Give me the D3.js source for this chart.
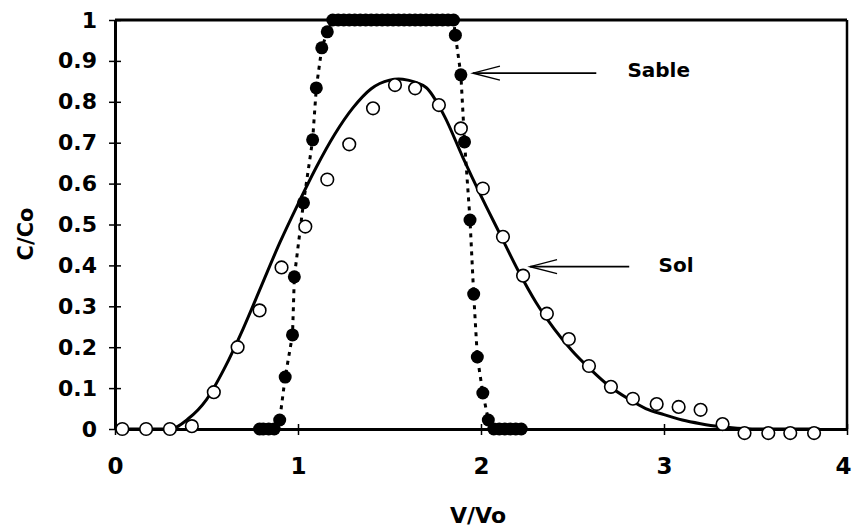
<!DOCTYPE html>
<html>
<head>
<meta charset="utf-8">
<script src="https://cdn.jsdelivr.net/npm/d3@7"></script>
<style>
  html, body { margin: 0; padding: 0; background: #fff; }
  svg { display: block; }
  text { font-family: "DejaVu Sans", "Liberation Sans", sans-serif; font-weight: bold; fill: #000; }
</style>
</head>
<body>
<svg id="chart" width="853" height="528"></svg>
<script>
// ---- Data ----
const xTicks = [0, 1, 2, 3, 4];
const yTicks = [0, 0.1, 0.2, 0.3, 0.4, 0.5, 0.6, 0.7, 0.8, 0.9, 1];
const yTickLabels = ["0", "0.1", "0.2", "0.3", "0.4", "0.5", "0.6", "0.7", "0.8", "0.9", "1"];

// Sol (open circles), measured
const solX = [0.04, 0.17, 0.30, 0.42, 0.54, 0.67, 0.79, 0.91, 1.04, 1.16, 1.28, 1.41, 1.53, 1.64, 1.77, 1.89, 2.01, 2.12, 2.23, 2.36, 2.48, 2.59, 2.71, 2.83, 2.96, 3.08, 3.20, 3.32, 3.44, 3.57, 3.69, 3.82];
const solC = [0, 0, 0, 0.007, 0.09, 0.20, 0.29, 0.395, 0.495, 0.61, 0.696, 0.784, 0.841, 0.833, 0.792, 0.735, 0.588, 0.47, 0.375, 0.282, 0.22, 0.154, 0.103, 0.074, 0.061, 0.054, 0.047, 0.012, -0.01, -0.01, -0.01, -0.01];

// Sol model curve (solid line)
const solFitX = [0, 0.30, 0.40, 0.50, 0.60, 0.70, 0.80, 0.90, 1.00, 1.10, 1.20, 1.30, 1.40, 1.50, 1.55, 1.60, 1.70, 1.80, 1.90, 2.00, 2.10, 2.20, 2.30, 2.40, 2.50, 2.60, 2.70, 2.80, 2.90, 3.00, 3.10, 3.20, 3.30, 3.40, 3.50, 3.85];
const solFitC = [0, 0, 0.025, 0.072, 0.15, 0.245, 0.35, 0.455, 0.55, 0.64, 0.72, 0.785, 0.832, 0.853, 0.856, 0.853, 0.835, 0.765, 0.665, 0.57, 0.48, 0.39, 0.31, 0.245, 0.19, 0.145, 0.105, 0.075, 0.05, 0.035, 0.022, 0.013, 0.006, 0.002, 0, 0];

// Sable (filled circles), measured
const sableX = [0.79, 0.81, 0.84, 0.87, 0.90, 0.93, 0.97, 0.98, 1.03, 1.08, 1.10, 1.13, 1.16,
  1.19, 1.22, 1.25, 1.28, 1.31, 1.34, 1.37, 1.40, 1.43, 1.46, 1.49, 1.52, 1.55, 1.58, 1.61, 1.64, 1.67, 1.70, 1.73, 1.76, 1.79, 1.82, 1.85,
  1.86, 1.89, 1.91, 1.94, 1.96, 1.98, 2.01, 2.04, 2.07, 2.10, 2.13, 2.16, 2.19, 2.22];
const sableC = [0, 0, 0, 0, 0.022, 0.127, 0.23, 0.372, 0.553, 0.707, 0.834, 0.932, 0.971,
  1, 1, 1, 1, 1, 1, 1, 1, 1, 1, 1, 1, 1, 1, 1, 1, 1, 1, 1, 1, 1, 1, 1,
  0.963, 0.866, 0.702, 0.511, 0.33, 0.176, 0.088, 0.022, 0, 0, 0, 0, 0, 0];

// Annotations: label, arrow tip, arrow tail, label position (data units)
const annLabels = ["Sable", "Sol"];
const annTip = [[1.956, 0.87], [2.268, 0.397]];
const annTail = [[2.63, 0.87], [2.81, 0.397]];
const annText = [[2.80, 0.86], [2.97, 0.385]];

// ---- Layout ----
const svg = d3.select("#chart");
const x = d3.scaleLinear().domain([0, 4]).range([115, 847]);
const y = d3.scaleLinear().domain([0, 1]).range([429, 20]);

// Frame (top and right)
svg.append("line").attr("x1", x(0)).attr("x2", x(4)).attr("y1", y(1)).attr("y2", y(1))
  .attr("stroke", "#000").attr("stroke-width", 3);
svg.append("line").attr("x1", x(4)).attr("x2", x(4)).attr("y1", y(1)).attr("y2", y(0))
  .attr("stroke", "#000").attr("stroke-width", 2.5);

// Axes
const xAxis = d3.axisBottom(x).tickValues(xTicks).tickSize(0).tickPadding(29).tickFormat(d3.format("d"));
const gx = svg.append("g").attr("transform", `translate(0,${y(0)})`).call(xAxis);
gx.select(".domain").attr("stroke", "#000").attr("stroke-width", 3);
gx.selectAll(".tick text").style("font-size", "23px").style("font-family", "'DejaVu Sans', sans-serif").style("font-weight", "bold")
  .attr("dx", d => d === 4 ? -4 : 0);
gx.selectAll(".tick").append("line").attr("y1", -5).attr("y2", 6).attr("stroke", "#000").attr("stroke-width", 1.5);

const yAxis = d3.axisLeft(y).tickValues(yTicks).tickSize(0).tickPadding(18)
  .tickFormat((d, i) => yTickLabels[i]);
const gy = svg.append("g").attr("transform", `translate(${x(0)},0)`).call(yAxis);
gy.select(".domain").attr("stroke", "#000").attr("stroke-width", 3);
gy.selectAll(".tick text").style("font-size", "22px").style("font-family", "'DejaVu Sans', sans-serif").style("font-weight", "bold");
gy.selectAll(".tick").append("line").attr("x1", -6).attr("x2", 6).attr("stroke", "#000").attr("stroke-width", 1.5);

// Axis titles
svg.append("text").attr("x", 478).attr("y", 523).attr("text-anchor", "middle")
  .style("font-size", "22px").text("V/Vo");
svg.append("text").attr("transform", "translate(33,234) rotate(-90)").attr("text-anchor", "middle")
  .style("font-size", "21px").text("C/Co");

// Sol curve
const solFit = solFitX.map((v, i) => [v, solFitC[i]]);
svg.append("path").datum(solFit)
  .attr("d", d3.line().x(d => x(d[0])).y(d => y(d[1])).curve(d3.curveMonotoneX))
  .attr("fill", "none").attr("stroke", "#000").attr("stroke-width", 3);

// Sable dotted line
const sable = sableX.map((v, i) => [v, sableC[i]]);
svg.append("path").datum(sable)
  .attr("d", d3.line().x(d => x(d[0])).y(d => y(d[1])))
  .attr("fill", "none").attr("stroke", "#000").attr("stroke-width", 3)
  .attr("stroke-dasharray", "4,5");

// Sol points
const sol = solX.map((v, i) => [v, solC[i]]);
svg.append("g").selectAll("circle").data(sol).join("circle")
  .attr("cx", d => x(d[0])).attr("cy", d => y(d[1])).attr("r", 6.3)
  .attr("fill", "#fff").attr("stroke", "#000").attr("stroke-width", 1.6);

// Sable points
svg.append("g").selectAll("circle").data(sable).join("circle")
  .attr("cx", d => x(d[0])).attr("cy", d => y(d[1])).attr("r", 6.5)
  .attr("fill", "#000");

// Annotations
annLabels.forEach((lab, i) => {
  const tx = x(annTip[i][0]), ty = y(annTip[i][1]);
  const ex = x(annTail[i][0]);
  svg.append("line").attr("x1", tx).attr("y1", ty).attr("x2", ex).attr("y2", ty)
    .attr("stroke", "#000").attr("stroke-width", 1.6);
  svg.append("path").attr("d", `M${tx + 27},${ty - 7} L${tx},${ty} L${tx + 27},${ty + 7}`)
    .attr("fill", "none").attr("stroke", "#000").attr("stroke-width", 1.4);
  svg.append("text").attr("x", x(annText[i][0])).attr("y", y(annText[i][1]))
    .style("font-size", "20px").text(lab);
});
</script>
</body>
</html>
